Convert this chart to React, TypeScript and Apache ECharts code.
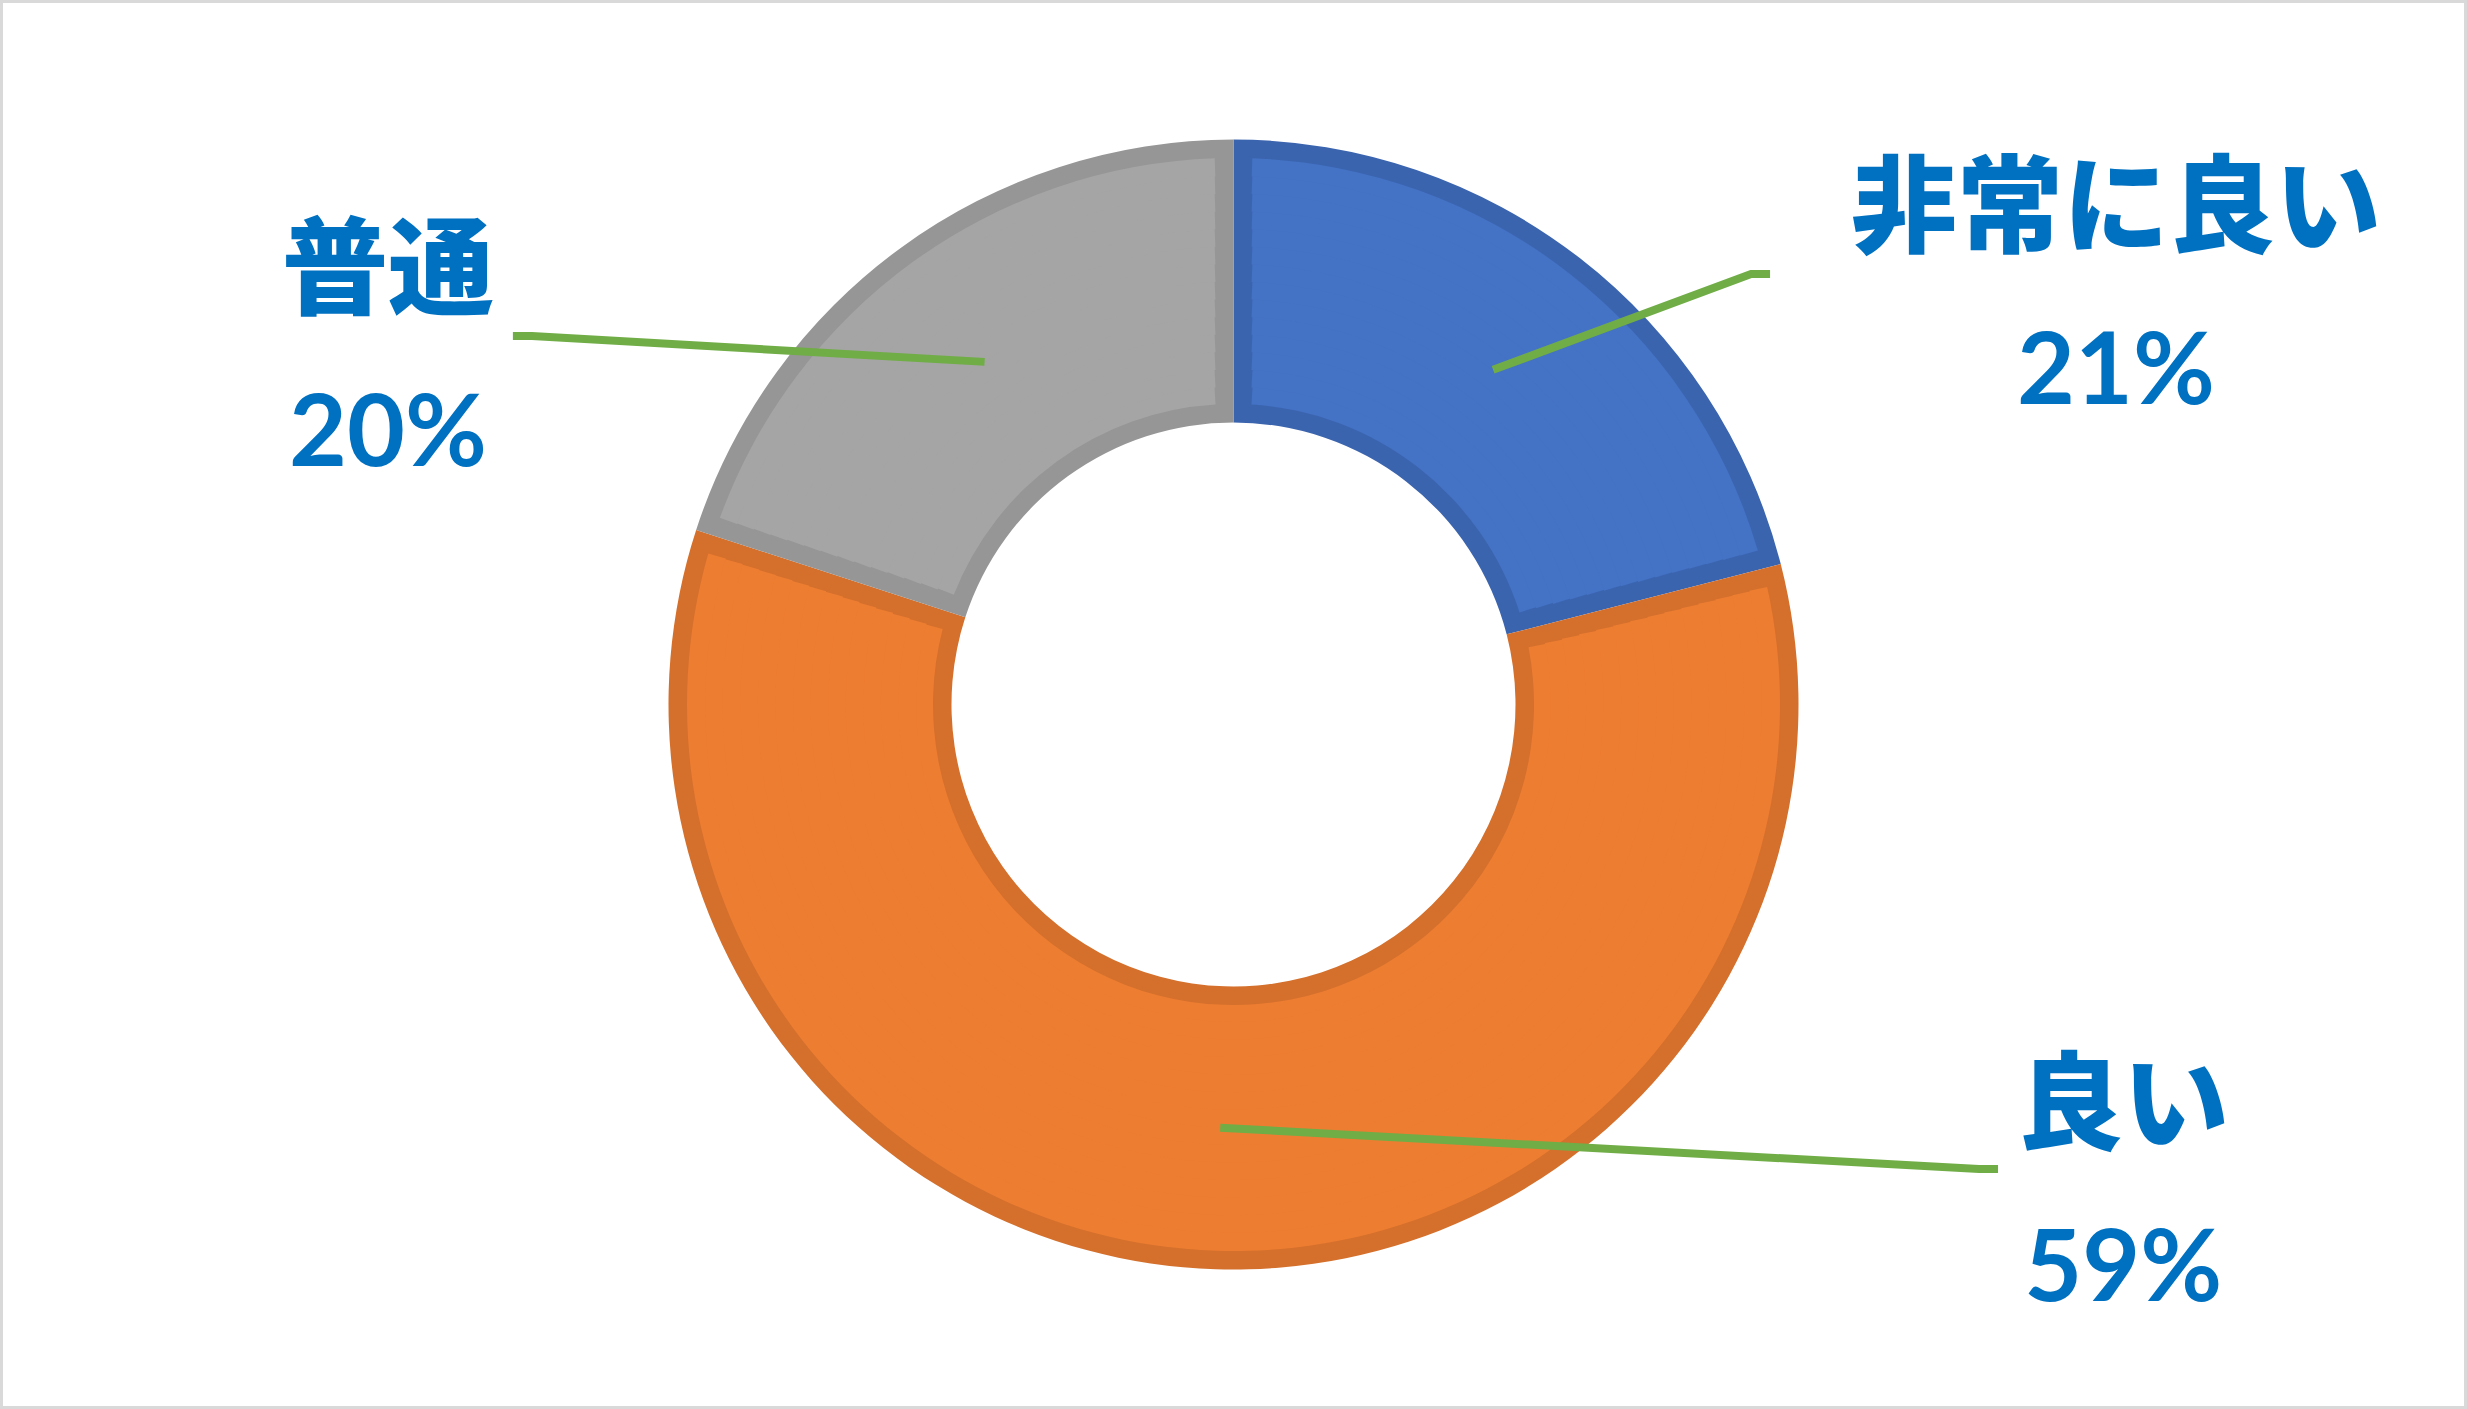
import { useEffect, useRef } from 'react';
import * as echarts from 'echarts';

// answers and their share (%)
const categories = ['非常に良い', '良い', '普通'];
const shares = [21, 59, 20];

const fillColors = ['#4472C4', '#ED7D31', '#A5A5A5'];
const edgeColors = ['#3B64AF', '#D4702C', '#969696'];

// where the leader lines end and where the labels sit (fraction of the chart box)
const lineEnds = [
    [0.7175, 0.1945],
    [0.8099, 0.8297],
    [0.2079, 0.2385],
];
const labelCenters = [
    [0.8577, 0.1995],
    [0.8606, 0.8365],
    [0.1573, 0.2440],
];

const OUTER = 565;
const INNER = 282;
const EDGE = 18.5;
const BANDS = 14;

const App = () => {
    const chartRef = useRef(null);

    useEffect(() => {
        document.body.style.margin = '0';
        const myChart = echarts.init(chartRef.current, null, { renderer: 'svg' });

        const pieData = (colors: string[]) =>
            categories.map((name, i) => ({
                name,
                value: shares[i],
                itemStyle: { color: colors[i] },
            }));

        const common = {
            type: 'pie',
            center: ['50%', '50%'],
            startAngle: 90,
            clockwise: true,
            silent: true,
            avoidLabelOverlap: false,
            emphasis: { disabled: true },
            label: { show: false },
            labelLine: { show: false },
        };

        // the fill is split into thin rings, each with its own gap angle,
        // so the rim between slices keeps about the same width everywhere
        const r0 = INNER + EDGE;
        const r1 = OUTER - EDGE;
        const step = (r1 - r0) / BANDS;
        const fillRings = Array.from({ length: BANDS }, (_, b) => {
            const a = r0 + b * step;
            const z = a + step;
            const mid = (a + z) / 2;
            return {
                ...common,
                radius: [b === 0 ? a : a - 0.6, b === BANDS - 1 ? z : z + 0.6],
                padAngle: ((2 * EDGE) / mid) * (180 / Math.PI),
                data: pieData(fillColors),
            };
        });

        myChart.setOption({
            animation: false,
            textStyle: { fontFamily: 'Noto Sans CJK JP' },
            series: [
                // darker rim of every slice
                {
                    ...common,
                    radius: [INNER, OUTER],
                    data: pieData(edgeColors),
                },
                ...fillRings,
                // invisible ring that only carries labels and leader lines
                {
                    ...common,
                    z: 5,
                    radius: [0, (INNER + OUTER) / 2],
                    percentPrecision: 0,
                    data: categories.map((name, i) => ({
                        name,
                        value: shares[i],
                        itemStyle: { color: 'transparent' },
                    })),
                    label: {
                        show: true,
                        position: 'outside',
                        formatter: '{name|{b}}\n{pct|{d}%}',
                        rich: {
                            name: {
                                fontSize: 106,
                                fontWeight: 900,
                                color: '#0070C0',
                                fontFamily: 'Noto Sans CJK JP',
                                lineHeight: 167,
                                align: 'center',
                            },
                            pct: {
                                fontSize: 100,
                                fontWeight: 'bold',
                                color: '#0070C0',
                                fontFamily: 'Lato',
                                lineHeight: 167,
                                align: 'center',
                            },
                        },
                    },
                    labelLine: {
                        show: true,
                        length: 20,
                        length2: 20,
                        lineStyle: { color: '#70AD47', width: 8, cap: 'butt', join: 'miter' },
                    },
                    labelLayout: (params: any) => {
                        const w = myChart.getWidth();
                        const h = myChart.getHeight();
                        const i = params.dataIndex;
                        const end = [lineEnds[i][0] * w, lineEnds[i][1] * h];
                        const side = labelCenters[i][0] > lineEnds[i][0] ? 1 : -1;
                        const elbow = [end[0] - side * 19, end[1]];
                        const start = params.labelLinePoints ? params.labelLinePoints[0] : elbow;
                        return {
                            x: labelCenters[i][0] * w,
                            y: labelCenters[i][1] * h,
                            align: 'center',
                            verticalAlign: 'middle',
                            labelLinePoints: [start, elbow, end],
                        };
                    },
                },
            ],
        });

        return () => {
            myChart.dispose();
        };
    }, []);

    return (
        <div
            ref={chartRef}
            style={{ width: '2467px', height: '1409px', boxShadow: 'inset 0 0 0 3px #d9d9d9' }}
        />
    );
};

export default App;
